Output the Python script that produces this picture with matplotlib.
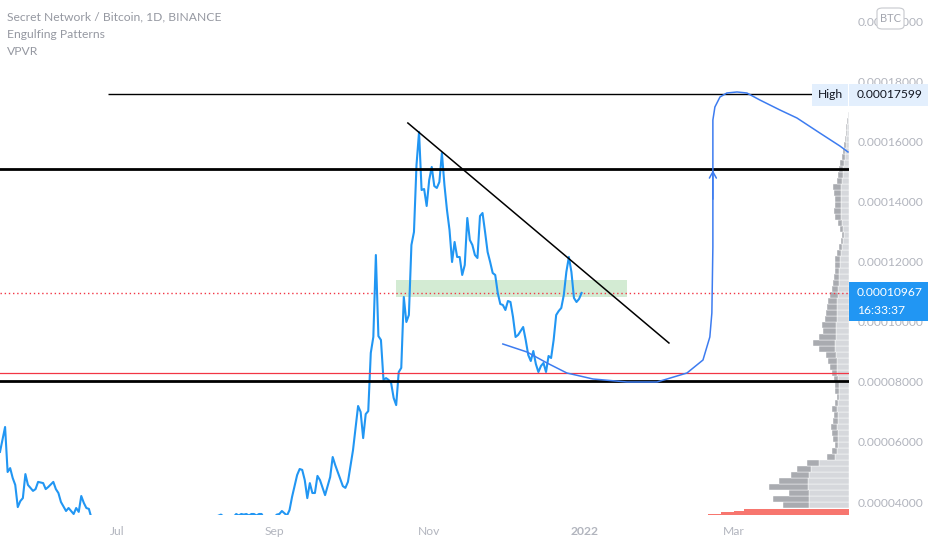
import matplotlib
matplotlib.use("Agg")
import matplotlib.pyplot as plt
import matplotlib.dates as mdates
from matplotlib.patches import Rectangle, FancyBboxPatch
import pandas as pd

plt.rcParams["font.family"] = ["Lato", "DejaVu Sans"]

start = pd.Timestamp("2021-05-16")

# SCRT/BTC daily closes, day offset from start
price_days = [0, 2, 3, 4, 5, 6, 7, 8, 9, 10, 11, 13, 14, 15, 17, 18, 19, 21, 22, 23,
              24, 26, 27, 29, 30, 31, 32, 33, 34, 35, 36, 40, 46, 52, 58, 64, 70, 76, 82, 87,
              89, 92, 93, 94, 95, 96, 97, 98, 99, 100, 101, 102, 103, 104, 107, 109, 110, 111, 113, 114,
              115, 117, 118, 119, 120, 121, 122, 123, 124, 125, 126, 128, 130, 131, 132, 133, 135, 136, 137, 139,
              141, 142, 143, 144, 145, 146, 147, 148, 149, 150, 151, 152, 153, 154, 155, 156, 157, 158, 159, 160,
              161, 162, 163, 164, 165, 166, 167, 168, 169, 170, 171, 172, 173, 174, 175, 176, 177, 178, 179, 180,
              181, 182, 183, 184, 185, 186, 187, 188, 189, 190, 191, 192, 193, 194, 195, 196, 197, 198, 199, 200,
              201, 202, 203, 204, 205, 206, 207, 208, 209, 210, 211, 212, 213, 214, 215, 216, 217, 218, 219, 220,
              221, 222, 223, 224, 225, 226, 227, 228, 229]
price_vals = [5.67e-5, 6.50e-5, 5.00e-5, 5.13e-5, 4.80e-5, 4.57e-5, 3.83e-5, 4.03e-5, 4.13e-5, 4.93e-5,
              4.57e-5, 4.37e-5, 4.43e-5, 4.67e-5, 4.63e-5, 4.43e-5, 4.50e-5, 4.67e-5, 4.43e-5, 4.30e-5,
              4.00e-5, 3.70e-5, 3.80e-5, 3.60e-5, 3.80e-5, 3.67e-5, 4.20e-5, 3.97e-5, 3.80e-5, 3.77e-5,
              3.47e-5, 3.30e-5, 3.10e-5, 3.20e-5, 3.00e-5, 3.10e-5, 3.20e-5, 3.30e-5, 3.40e-5, 3.58e-5,
              3.45e-5, 3.50e-5, 3.60e-5, 3.55e-5, 3.60e-5, 3.58e-5, 3.60e-5, 3.55e-5, 3.60e-5, 3.60e-5,
              3.55e-5, 3.60e-5, 3.60e-5, 3.45e-5, 3.40e-5, 3.58e-5, 3.60e-5, 3.70e-5, 3.55e-5, 3.73e-5,
              4.17e-5, 4.90e-5, 5.10e-5, 5.07e-5, 4.73e-5, 4.13e-5, 4.63e-5, 4.30e-5, 4.30e-5, 4.87e-5,
              4.73e-5, 4.23e-5, 4.83e-5, 5.50e-5, 5.23e-5, 5.00e-5, 4.53e-5, 4.47e-5, 4.67e-5, 5.73e-5,
              7.20e-5, 7.00e-5, 6.13e-5, 6.93e-5, 7.03e-5, 8.97e-5, 9.50e-5, 1.2233e-4, 9.53e-5, 9.40e-5,
              8.07e-5, 8.13e-5, 8.07e-5, 7.97e-5, 7.47e-5, 7.23e-5, 8.33e-5, 8.47e-5, 1.0833e-4, 1.00e-4,
              1.0233e-4, 1.2567e-4, 1.30e-4, 1.5233e-4, 1.6333e-4, 1.44e-4, 1.4433e-4, 1.3867e-4, 1.4733e-4, 1.5167e-4,
              1.4533e-4, 1.4467e-4, 1.4667e-4, 1.5633e-4, 1.4567e-4, 1.3733e-4, 1.3067e-4, 1.20e-4, 1.2667e-4, 1.2167e-4,
              1.2167e-4, 1.1567e-4, 1.19e-4, 1.3467e-4, 1.2733e-4, 1.2567e-4, 1.2233e-4, 1.2133e-4, 1.3533e-4, 1.3633e-4,
              1.30e-4, 1.2333e-4, 1.20e-4, 1.1633e-4, 1.1567e-4, 1.0967e-4, 1.06e-4, 1.0567e-4, 1.04e-4, 1.07e-4,
              1.0667e-4, 1.0167e-4, 9.50e-5, 9.567e-5, 9.70e-5, 9.833e-5, 9.40e-5, 8.90e-5, 8.70e-5, 9.033e-5,
              8.60e-5, 8.333e-5, 8.533e-5, 8.633e-5, 8.333e-5, 8.867e-5, 8.80e-5, 9.40e-5, 1.0233e-4, 1.0367e-4,
              1.0467e-4, 1.09e-4, 1.1667e-4, 1.2167e-4, 1.1667e-4, 1.08e-4, 1.0667e-4, 1.0767e-4, 1.0967e-4]

last_price = 0.00010967
high_price = 0.00017599
high_from_day = 42.5
level_upper = 0.000151
level_lower = 0.0000803
level_red = 0.0000831
zone_days = [155.9, 246.9]
zone_prices = [0.0001083, 0.000114]
trend_days = [160.6, 263.4]
trend_prices = [0.00016633, 0.000093]

# hand-drawn projection path
path_days = [198.0, 207.5, 215.4, 223.2, 233.5, 246.9, 258.7, 270.5, 276.8, 279.5, 280.3, 280.7,
             280.7, 280.7, 281.5, 283.5, 286.2, 290.2, 294.1, 299.2, 307.1, 313.8, 322.8, 330.7, 333.9]
path_prices = [9.267e-5, 9.0e-5, 8.633e-5, 8.3e-5, 8.1e-5, 8.0e-5, 8.0e-5, 8.3e-5, 8.733e-5, 9.5e-5,
               1.03e-4, 1.25e-4, 1.5067e-4, 1.6733e-4, 1.7167e-4, 1.75e-4, 1.7633e-4, 1.7667e-4, 1.7633e-4,
               1.74e-4, 1.7067e-4, 1.68e-4, 1.63e-4, 1.5867e-4, 1.5667e-4]

# visible range volume profile (rows of 0.000002 BTC)
vp_prices = [3.9e-5 + 2e-6 * i for i in range(66)]
vp_up = [40, 40, 40, 41, 41, 40, 38, 30, 14, 12, 11, 11, 11, 12, 11, 11, 12, 11, 10, 10,
         10, 11, 12, 12, 12, 13, 14, 14, 13, 13, 13, 12, 12, 12, 12, 11, 11, 10, 10, 10,
         9, 9, 8, 7, 6, 5, 6, 7, 8, 8, 8, 8, 8, 8, 7, 6, 6, 5, 4, 4, 3, 3, 2, 2, 1, 1]
vp_down = [26, 36, 20, 39, 29, 18, 14, 12, 8, 5, 3, 5, 6, 6, 5, 4, 5, 3, 2, 4,
           4, 4, 5, 7, 9, 10, 16, 22, 17, 13, 14, 12, 11, 10, 9, 8, 6, 6, 5, 4,
           5, 5, 4, 3, 2, 2, 3, 4, 6, 7, 6, 6, 7, 8, 5, 5, 4, 4, 3, 2, 2, 1, 1, 1, 1, 0]
poc_prices = [3.575e-5, 3.625e-5, 3.675e-5, 3.725e-5]
poc_vols = [141, 128, 115, 105]

title_lines = ["Secret Network / Bitcoin, 1D, BINANCE", "Engulfing Patterns", "VPVR"]
tick_dates = ["2021-07-01", "2021-09-01", "2021-11-01", "2022-01-01", "2022-03-01"]
tick_labels = ["Jul", "Sep", "Nov", "2022", "Mar"]
y_ticks = [4e-5, 6e-5, 8e-5, 1e-4, 1.2e-4, 1.4e-4, 1.6e-4, 1.8e-4, 2e-4]

W, H = 932, 550
base = mdates.date2num(start)
fig = plt.figure(figsize=(W / 100, H / 100), dpi=100)
fig.patch.set_facecolor("white")
ax = fig.add_axes([0, 35 / H, 849 / W, 515 / H])
ax2 = ax.twiny()
ax.set_zorder(2)
ax.patch.set_visible(False)
ax2.set_zorder(1)

grey = "#b2b5be"
blue = "#2196f3"
fs = 8.7

ax.set_xlim(base, base + 334.3)
ax.set_ylim(3.5667e-5, 2.0733e-4)

ax.plot([base + d for d in price_days], price_vals, color=blue, lw=1.5, zorder=4,
        solid_joinstyle="round")

ax.add_patch(Rectangle((base + zone_days[0], zone_prices[0]), zone_days[1] - zone_days[0],
                       zone_prices[1] - zone_prices[0], facecolor="#c8e6c9", alpha=0.8,
                       edgecolor="none", zorder=1))
ax.axhline(level_upper, color="black", lw=2, zorder=5)
ax.axhline(level_lower, color="black", lw=2, zorder=5)
ax.axhline(level_red, color="#f23645", lw=0.9, zorder=5)
ax.axhline(last_price, color="#f23645", lw=1, ls=(0, (1, 2)), zorder=3)
ax.hlines(high_price, base + high_from_day, base + 320.8, color="black", lw=1, zorder=5)
ax.plot([base + d for d in trend_days], trend_prices, color="black", lw=1.1, zorder=5)

path_color = "#3d7cf0"
ax.plot([base + d for d in path_days], path_prices, color=path_color, lw=1.1, zorder=5)
ax.annotate("", xy=(base + 280.7, 1.515e-4), xytext=(base + 280.7, 1.40e-4),
            arrowprops=dict(arrowstyle="->,head_length=0.45,head_width=0.25",
                            color=path_color, lw=1.1), zorder=5)

# volume profile, drawn from the right edge
ax2.set_xlim(849, 0)
ax2.barh(vp_prices, vp_up, height=1.8e-6, left=0, color="#d6d8dc", edgecolor="white", lw=0.3)
ax2.barh(vp_prices, vp_down, height=1.8e-6, left=vp_up, color="#a9abb0", edgecolor="white", lw=0.3)
ax2.barh(poc_prices, poc_vols, height=0.55e-6, left=0, color="#f7766f", edgecolor="none")
ax2.set_xticks([])
for s in ax2.spines.values():
    s.set_visible(False)

for s in ax.spines.values():
    s.set_visible(False)
ax.yaxis.tick_right()
ax.set_yticks(y_ticks)
ax.set_yticklabels([f"{v:.8f}" for v in y_ticks])
ax.tick_params(axis="y", length=0, pad=6.5, labelsize=fs, labelcolor=grey)
ax.set_xticks([mdates.date2num(pd.Timestamp(t)) for t in tick_dates])
ax.set_xticklabels(tick_labels)
ax.tick_params(axis="x", length=0, pad=8, labelsize=fs, labelcolor=grey)
for lbl in ax.get_xticklabels():
    if lbl.get_text() == "2022":
        lbl.set_fontweight("bold")

# header text
for i, t in enumerate(title_lines):
    fig.text(7 / W, 1 - (17 + 17.5 * i) / H, t, fontsize=fs, color="#9598a1", va="center",
             ha="left")

# price scale labels, on top of the tick labels
fig.add_artist(Rectangle((849 / W, 1 - 321 / H), 79 / W, 39 / H, transform=fig.transFigure,
                         facecolor=blue, edgecolor="none", zorder=10))
fig.text(857 / W, 1 - 293 / H, f"{last_price:.8f}", fontsize=fs, color="white", va="center",
         zorder=11)
fig.text(857 / W, 1 - 311 / H, "16:33:37", fontsize=fs, color="white", va="center", zorder=11)

fig.add_artist(Rectangle((812 / W, 1 - 106 / H), 36 / W, 22 / H, transform=fig.transFigure,
                         facecolor="#e3effd", edgecolor="none", zorder=10))
fig.text(830 / W, 1 - 95 / H, "High", fontsize=fs, color="#131722", va="center", ha="center",
         zorder=11)
fig.add_artist(Rectangle((849 / W, 1 - 106 / H), 79 / W, 22 / H, transform=fig.transFigure,
                         facecolor="#e3effd", edgecolor="none", zorder=10))
fig.text(857 / W, 1 - 95 / H, f"{high_price:.8f}", fontsize=fs, color="#131722", va="center",
         zorder=11)

fig.add_artist(FancyBboxPatch((877 / W, 1 - 29 / H), 27 / W, 21 / H, transform=fig.transFigure,
                              boxstyle="round,pad=0,rounding_size=0.006", facecolor="white",
                              edgecolor="#c7c9ce", lw=0.8, zorder=10))
fig.text(890.5 / W, 1 - 18.5 / H, "BTC", fontsize=8, color="#a3a6af", va="center", ha="center",
         zorder=11)

fig.savefig("out.png", dpi=100, facecolor="white")
